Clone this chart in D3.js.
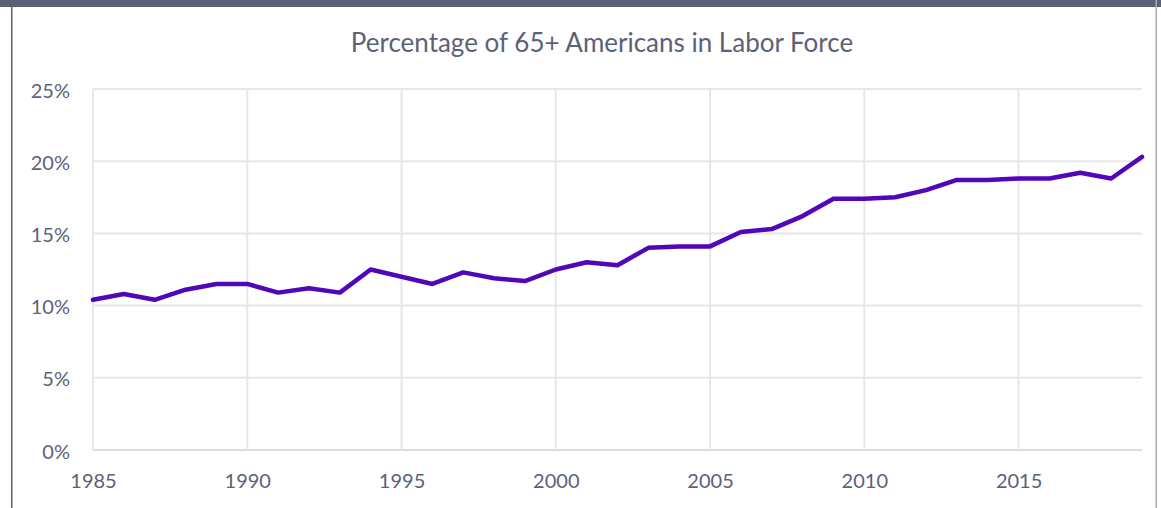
<!DOCTYPE html>
<html lang="en">
<head>
    <meta charset="UTF-8">
    <title>Percentage of 65+ Americans in Labor Force</title>
    <script src="https://d3js.org/d3.v7.min.js"></script>
    <style>
        body { margin: 0; background: #fff; }
        text { font-family: Lato, "Open Sans", sans-serif; fill: #5d6178; }
        .grid line { stroke: #e6e6ee; stroke-width: 2px; }
    </style>
</head>
<body>
<script>
    // data
    const years = [1985, 1986, 1987, 1988, 1989, 1990, 1991, 1992, 1993, 1994,
        1995, 1996, 1997, 1998, 1999, 2000, 2001, 2002, 2003, 2004,
        2005, 2006, 2007, 2008, 2009, 2010, 2011, 2012, 2013, 2014,
        2015, 2016, 2017, 2018, 2019];
    const pct = [10.4, 10.8, 10.4, 11.1, 11.5, 11.5, 10.9, 11.2, 10.9, 12.5,
        12.0, 11.5, 12.3, 11.9, 11.7, 12.5, 13.0, 12.8, 14.0, 14.1,
        14.1, 15.1, 15.3, 16.2, 17.4, 17.4, 17.5, 18.0, 18.7, 18.7,
        18.8, 18.8, 19.2, 18.8, 20.3];
    const xTicks = [1985, 1990, 1995, 2000, 2005, 2010, 2015];
    const yTicks = [0, 5, 10, 15, 20, 25];
    const title = "Percentage of 65+ Americans in Labor Force";

    const width = 1161, height = 508;
    const svg = d3.select("body").append("svg").attr("width", width).attr("height", height);

    // frame
    svg.append("rect").attr("x", 0).attr("y", 0).attr("width", width).attr("height", 7).attr("fill", "#5d6178");
    svg.append("rect").attr("x", 11).attr("y", 0).attr("width", 1.5).attr("height", height).attr("fill", "#5d6178");
    svg.append("rect").attr("x", 1155.5).attr("y", 0).attr("width", 1.5).attr("height", height).attr("fill", "#a9abb8");

    const x = d3.scaleLinear().domain([1985, 2019]).range([93, 1142]);
    const y = d3.scaleLinear().domain([0, 25]).range([450, 89]);

    svg.append("text").attr("x", 602).attr("y", 52).attr("text-anchor", "middle")
        .style("font-size", "26px").style("font-weight", 400).text(title);

    // grid
    const grid = svg.append("g").attr("class", "grid");
    grid.selectAll("line.h").data(yTicks).enter().append("line").attr("class", "h")
        .attr("x1", x.range()[0]).attr("x2", x.range()[1])
        .attr("y1", d => y(d)).attr("y2", d => y(d))
        .style("stroke", d => d === 0 ? "#d9dbe5" : null);
    grid.selectAll("line.v").data(xTicks).enter().append("line").attr("class", "v")
        .attr("x1", d => x(d)).attr("x2", d => x(d))
        .attr("y1", y(25)).attr("y2", y(0));

    // axes
    const yAxis = svg.append("g").attr("transform", "translate(70,0)")
        .call(d3.axisLeft(y).tickValues(yTicks).tickSize(0).tickPadding(0).tickFormat(d => d + "%"));
    yAxis.select(".domain").remove();
    yAxis.selectAll("text").style("font-size", "20px").attr("dy", "0.4em");

    const xAxis = svg.append("g").attr("transform", "translate(0,474)")
        .call(d3.axisBottom(x).tickValues(xTicks).tickSize(0).tickPadding(0).tickFormat(d3.format("d")));
    xAxis.select(".domain").remove();
    xAxis.selectAll("text").style("font-size", "20px");

    // line
    const line = d3.line().x((d, i) => x(years[i])).y(d => y(d));
    svg.append("path").datum(pct).attr("d", line)
        .attr("fill", "none").attr("stroke", "#5106b8").attr("stroke-width", 4.5)
        .attr("stroke-linejoin", "round").attr("stroke-linecap", "round");
</script>
</body>
</html>
